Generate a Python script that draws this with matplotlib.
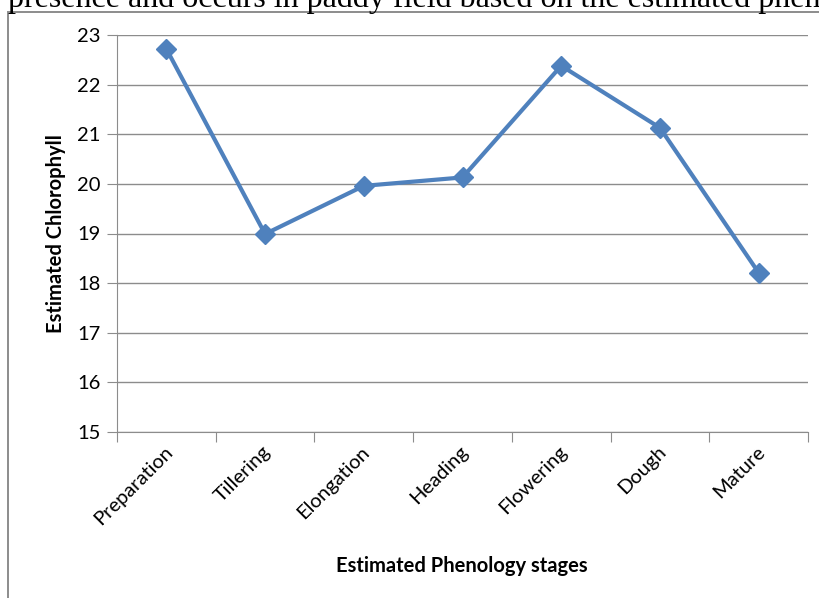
import numpy as np
import matplotlib.pyplot as plt
from matplotlib.patches import Rectangle

stages = ["Preparation", "Tillering", "Elongation", "Heading",
          "Flowering", "Dough", "Mature"]
chlorophyll = [22.72, 18.99, 19.96, 20.13, 22.38, 21.13, 18.21]
y_ticks = [15, 16, 17, 18, 19, 20, 21, 22, 23]

plt.rcParams['font.family'] = ['Lato', 'DejaVu Sans']

fig = plt.figure(figsize=(8.19, 5.98), dpi=100)
fig.patch.set_facecolor("white")

# caption text of the page above the chart, cut at the top edge
fig.text(0.010, 1 - 7 / 598, "presence and occurs in paddy field based on the estimated phenology",
         family="Liberation Serif", fontsize=23, va="baseline", ha="left")

# chart frame (only left and top visible)
fig.patches.append(Rectangle((8 / 819, -0.1), 1.2, 1.1 - 12 / 598,
                             transform=fig.transFigure, fill=False,
                             edgecolor="#8c8c8c", linewidth=1.4))

ax = fig.add_axes([117 / 819, 1 - 432 / 598, (808 - 117) / 819, (432 - 35) / 598])
x = np.arange(len(stages))
ax.plot(x, chlorophyll, color="#4F81BD", linewidth=3.0, marker="D",
        markersize=10.5, markerfacecolor="#4F81BD", markeredgecolor="#4F81BD",
        zorder=3)

ax.set_xlim(-0.5, len(stages) - 0.5)
ax.set_ylim(15, 23)
ax.set_yticks(y_ticks)
ax.grid(axis="y", color="#8c8c8c", linewidth=1.0)
ax.set_axisbelow(True)

for side in ["top", "right"]:
    ax.spines[side].set_visible(False)
ax.spines["left"].set_color("#8c8c8c")
ax.spines["bottom"].set_color("#8c8c8c")

ax.set_xticks(np.arange(len(stages) + 1) - 0.5)
ax.set_xticklabels([])
ax.tick_params(axis="x", length=7, color="#8c8c8c", direction="out")
ax.tick_params(axis="y", length=7, color="#8c8c8c", direction="out",
               labelsize=14.5, pad=5)

for i, name in enumerate(stages):
    ax.annotate(name, xy=(i, 15), xycoords="data", xytext=(-2, -8),
                textcoords="offset points", rotation=45, ha="right",
                va="top", rotation_mode="anchor", fontsize=14.5)

ax.set_ylabel("Estimated Chlorophyll", fontsize=14.5, fontweight="bold",
              labelpad=8)
fig.text(462 / 819, 1 - 566 / 598, "Estimated Phenology stages",
         fontsize=14.5, fontweight="bold", ha="center", va="center")

fig.savefig("out.png", dpi=100)
